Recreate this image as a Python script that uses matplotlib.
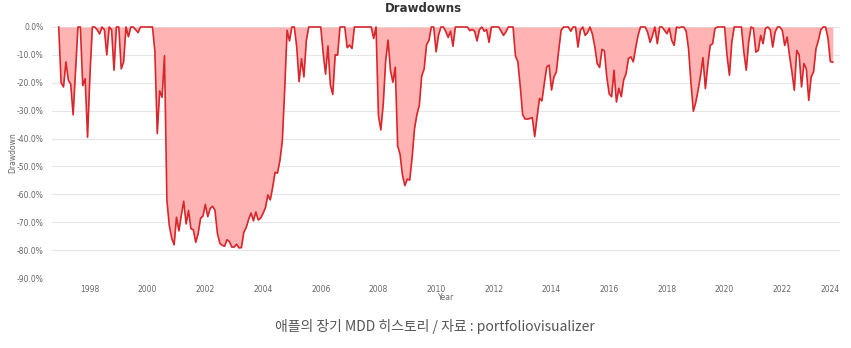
import numpy as np
import pandas as pd
import matplotlib
matplotlib.use("Agg")
import matplotlib.pyplot as plt

plt.rcParams['font.family'] = ['DejaVu Sans']

# Monthly drawdown (%) of Apple, Dec 1996 .. Oct 2023
dd_1996 = [0.0]
dd_1997 = [-20, -21.5, -12.5, -19, -20.5, -31.5, -16, 0, 0, -21, -18.5, -39.5]
dd_1998 = [-17, 0, 0, -1, -2.5, 0, -1, -10, 0, -1, -15.5, 0]
dd_1999 = [0, -15, -12.5, 0, -3.5, 0, 0, -1, -2, 0, 0, 0]
dd_2000 = [0, 0, 0, -8.7, -38.2, -22.9, -25.2, -10.3, -62.1, -71.2, -75.7, -78.1]
dd_2001 = [-68.2, -73.1, -67.5, -62.5, -70.6, -65.8, -72.3, -72.7, -77.2, -74.1, -68.6, -67.8]
dd_2002 = [-63.6, -68.0, -65.1, -64.3, -65.7, -73.9, -77.5, -78.3, -78.6, -76.3, -76.9, -78.9]
dd_2003 = [-78.9, -77.9, -79.2, -79.1, -73.6, -71.9, -69.0, -66.7, -69.5, -66.3, -69.2, -68.5]
dd_2004 = [-66.8, -64.8, -60.2, -62.0, -57.5, -52.1, -52.4, -48.0, -41.0, -22.5, -1.2, -5.0]
dd_2005 = [0, 0, -7.1, -19.6, -11.4, -17.9, -4.9, 0, 0, 0, 0, 0]
dd_2006 = [0, -9.3, -16.9, -6.8, -20.8, -24.2, -10.0, -10.1, 0, 0, 0, -7.4]
dd_2007 = [-6.5, -7.7, 0, 0, 0, 0, 0, 0, 0, 0, -4.1, 0]
dd_2008 = [-31.7, -36.9, -27.6, -12.2, -4.7, -15.5, -19.8, -14.4, -42.6, -45.7, -53.2, -56.9]
dd_2009 = [-54.5, -54.9, -46.9, -36.5, -31.4, -28.1, -17.5, -15.1, -6.4, -4.8, 0, 0]
dd_2010 = [-8.9, -2.9, 0, 0, -1.6, -3.7, -1.5, -6.9, 0, 0, 0, 0]
dd_2011 = [0, 0, -1.3, -0.9, -1.5, -5.0, -1.0, 0, -1.5, -1.0, -5.5, 0]
dd_2012 = [0, 0, 0, -1.5, -3.0, -1.8, 0, 0, 0, -10.4, -12.5, -21.4]
dd_2013 = [-31.5, -33.0, -33.0, -32.8, -32.5, -39.3, -32.2, -25.6, -26.5, -20.2, -14.3, -13.7]
dd_2014 = [-22.6, -17.9, -16.1, -8.3, -1.2, 0, 0, 0, -1.5, 0, 0, -7.2]
dd_2015 = [-1.2, 0, -3.0, -2.0, 0, -2.6, -7.0, -13.1, -14.5, -8.0, -8.6, -18.0]
dd_2016 = [-24.0, -25.0, -15.5, -26.9, -22.0, -25.0, -19.0, -16.7, -11.3, -10.7, -12.5, -7.5]
dd_2017 = [-3.0, 0, 0, 0, -2.0, -5.5, -3.0, 0, -6.0, 0, 0, -1.2]
dd_2018 = [-2.4, -0.4, -4.8, -6.6, 0, -0.3, 0, 0, -1.5, -7.8, -20.0, -30.2]
dd_2019 = [-27.0, -22.5, -17.3, -11.0, -22.1, -13.7, -6.6, -6.0, -0.5, 0, 0, 0]
dd_2020 = [0, -10.2, -17.3, -5.4, 0, 0, 0, 0, -9.0, -15.5, -5.4, 0]
dd_2021 = [-0.5, -9.0, -8.4, -3.0, -6.0, -0.5, 0, -1.0, -7.2, -1.8, 0, 0]
dd_2022 = [-1.2, -6.6, -3.6, -10.2, -16.1, -22.7, -8.4, -10.0, -21.5, -13.1, -15.0, -26.3]
dd_2023 = [-17.9, -16.1, -7.8, -4.8, -1.0, 0, 0, -4.0, -12.4, -12.6]

drawdown = np.array(
    dd_1996 + dd_1997 + dd_1998 + dd_1999 + dd_2000 + dd_2001 + dd_2002 + dd_2003
    + dd_2004 + dd_2005 + dd_2006 + dd_2007 + dd_2008 + dd_2009 + dd_2010 + dd_2011
    + dd_2012 + dd_2013 + dd_2014 + dd_2015 + dd_2016 + dd_2017 + dd_2018 + dd_2019
    + dd_2020 + dd_2021 + dd_2022 + dd_2023, dtype=float)

dates = pd.date_range("1996-12-01", periods=len(drawdown), freq="MS")
t = dates.year + (dates.month - 1) / 12.0

year_ticks = list(range(1998, 2025, 2))
y_ticks = list(range(0, -100, -10))
y_tick_labels = [f"{v:.1f}%" for v in y_ticks]

title = "Drawdowns"
x_label = "Year"
y_label = "Drawdown"
caption = "애플의 장기 MDD 히스토리 / 자료 : portfoliovisualizer"

W, H = 851, 348
fig = plt.figure(figsize=(W / 100, H / 100), dpi=100)
fig.patch.set_facecolor("white")

L, R, T, B = 52, 840, 27, 278
ax = fig.add_axes([L / W, 1 - B / H, (R - L) / W, (B - T) / H])

ax.fill_between(t, drawdown, 0, color="#ffb3b3", linewidth=0, zorder=2)
ax.plot(t, drawdown, color="#d8262b", linewidth=1.2, zorder=3, clip_on=False)

ax.set_xlim(1996.684, 2024.0)
ax.set_ylim(-90, 0)

for v in y_ticks:
    ax.axhline(v, color="#e6e6e6" if v != -90 else "#ccd6eb", linewidth=0.8, zorder=1)

for s in ax.spines.values():
    s.set_visible(False)

ax.set_yticks(y_ticks)
ax.set_yticklabels(y_tick_labels, fontsize=5.5, color="#666666")
ax.set_xticks(year_ticks)
ax.set_xticklabels([str(y) for y in year_ticks], fontsize=5.5, color="#666666")
lbls = ax.get_xticklabels()
lbls[-1].set_horizontalalignment("right")
ax.tick_params(axis="both", length=0)
ax.tick_params(axis="y", pad=6)
ax.tick_params(axis="x", pad=5)

fig.text(0.497, 1 - 9 / H, title, ha="center", va="center", fontsize=8.5,
         fontweight="bold", color="#333333")
fig.text((L + R) / 2 / W, 1 - 298 / H, x_label, ha="center", va="center",
         fontsize=5.5, color="#666666")
fig.text(13 / W, 1 - 153 / H, y_label, ha="center", va="center", rotation=90,
         fontsize=5.5, color="#666666")
fig.text(435 / W, 1 - 327 / H, caption, ha="center", va="center", fontsize=10,
         color="#555555", family=["Noto Sans CJK KR", "DejaVu Sans"])

fig.savefig("out.png", dpi=100, facecolor="white")
